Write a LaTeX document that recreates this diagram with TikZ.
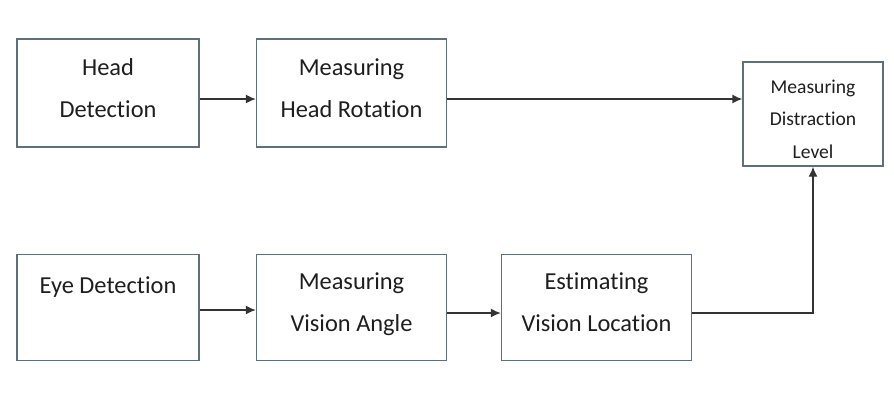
\documentclass[tikz,border=0pt]{standalone}
\usepackage{fontspec}
\setmainfont[Ligatures=NoCommon]{Carlito}
\usetikzlibrary{arrows.meta}
\definecolor{boxline}{RGB}{95,112,122}
\definecolor{txt}{RGB}{30,30,30}
\tikzset{
  stage/.style={draw=boxline, line width=0.7pt, text=txt, align=center,
    minimum width=95pt, minimum height=53pt, inner sep=0pt,
    text height=29pt, text depth=5.5pt,
    font=\fontsize{12.2pt}{20.8pt}\selectfont},
  upper/.style={minimum height=54pt, text height=30pt, text depth=6pt},
  flow/.style={-{Latex[length=5pt,width=4.5pt]}, line width=0.7pt, draw=black!80}
}
\begin{document}
\begin{tikzpicture}[x=0.5pt,y=-0.5pt]
            % Keep the margins of the page
            \useasboundingbox (0,0) rectangle (894,404);

            % Upper row: head branch
            \node[stage, upper, minimum width=91pt] (head) at (108,93) {Head\\Detection}; % Head detection
            \node[stage, upper] (rotation) at (351.5,93) {Measuring\\Head Rotation}; % Head rotation

            % Lower row: eye branch
            \node[stage, minimum width=91pt, text height=9pt, text depth=23.5pt] (eye) at (108,307.5) {Eye Detection}; % Eye detection
            \node[stage] (angle) at (351.5,307.5) {Measuring\\Vision Angle}; % Vision angle
            \node[stage] (location) at (596.5,307.5) {Estimating\\Vision Location}; % Vision location

            % Result box on the right
            \node[stage, minimum width=70pt, minimum height=52pt, text height=45pt, text depth=1pt,
              font=\fontsize{9.8pt}{16.25pt}\selectfont] (distraction) at (813,114) {Measuring\\Distraction\\Level};

            % Connect the stages
            \draw[flow] ([yshift=-3pt]head.east) -- ([yshift=-3pt]rotation.west);
            \draw[flow] ([yshift=-3pt]rotation.east) -- (distraction.west|-0,99);
            \draw[flow] ([yshift=-1.25pt]eye.east) -- ([yshift=-1.25pt]angle.west);
            \draw[flow] ([yshift=-2.75pt]angle.east) -- ([yshift=-2.75pt]location.west);
            \draw[flow] ([yshift=-2.75pt]location.east) -| (distraction.south);
\end{tikzpicture}
\end{document}
